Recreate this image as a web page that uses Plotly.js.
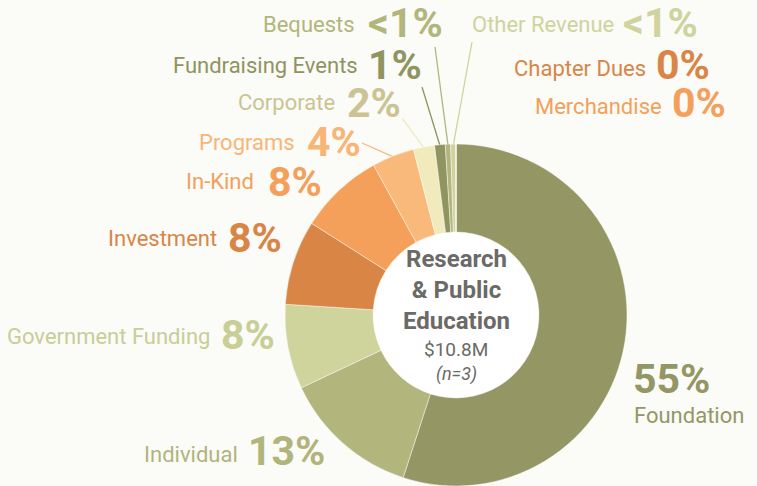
<!DOCTYPE html>
<html>
<head>
<meta charset="utf-8">
<script src="https://cdn.plot.ly/plotly-3.0.1.min.js"></script>
<style>html,body{margin:0;padding:0;background:#fbfbf8;}#chart{width:757px;height:486px;}</style>
</head>
<body>
<div id="chart"></div>
<script>
// ---- data ----
const categories = ["Foundation","Individual","Government Funding","Investment","In-Kind","Programs","Corporate","Fundraising Events","Bequests","Other Revenue","Chapter Dues","Merchandise"];
const shares = [55, 13, 8, 8, 8, 4, 2, 1, 0.5, 0.5, 0, 0];
const pctLabels = ["55%","13%","8%","8%","8%","4%","2%","1%","<1%","<1%","0%","0%"];
const centerTitle = ["Research","& Public","Education"];
const centerTotal = "$10.8M";
const centerN = "(n=3)";

// ---- styles ----
const sliceColors = ["#949764","#b2b57c","#cfd39c","#d98546","#f4a05a","#f8b97b","#f1eabd","#8f9460","#b2b67c","#cfd49c","#d98546","#f4a05a"];
const textColors  = ["#949764","#b1b47b","#c9cd96","#d98546","#f4a05a","#f8b576","#cbc492","#8f9460","#b2b67c","#cfd49c","#d98546","#f4a05a"];

const W = 757, H = 486;
const cx = 456, cy = 315, R = 171, holeFrac = 0.485;
const px = x => x / W;
const py = y => 1 - y / H;

// label layout in pixels
const labelPos = {
  "Foundation":        {lx:632, ly:415, la:"left",  nx:631, ny:379},
  "Individual":        {lx:240, ly:454, la:"right", nx:246, ny:451},
  "Government Funding":{lx:212, ly:336, la:"right", nx:219, ny:335},
  "Investment":        {lx:219, ly:238, la:"right", nx:226, ny:238},
  "In-Kind":           {lx:256, ly:182, la:"right", nx:266, ny:182},
  "Programs":          {lx:297, ly:142, la:"right", nx:305, ny:142},
  "Corporate":         {lx:337, ly:103, la:"right", nx:345, ny:103},
  "Fundraising Events":{lx:360, ly:66,  la:"right", nx:366, ny:65},
  "Bequests":          {lx:357, ly:24,  la:"right", nx:366, ny:23},
  "Other Revenue":     {lx:470, ly:24,  la:"left",  nx:621, ny:23},
  "Chapter Dues":      {lx:648, ly:68,  la:"right", nx:654, ny:65},
  "Merchandise":       {lx:664, ly:106, la:"right", nx:670, ny:103}
};
const leaderStart = {
  "Programs": [362,143],
  "Corporate": [402,118],
  "Fundraising Events": [422,87],
  "Bequests": [435,47],
  "Other Revenue": [472,42]
};

const labelFont = "Roboto, sans-serif";

const annotations = [];
categories.forEach((c, i) => {
  const p = labelPos[c];
  annotations.push({xref:"paper", yref:"paper", x:px(p.lx), y:py(p.ly), xanchor:p.la, yanchor:"middle",
    text:c, showarrow:false, font:{family:labelFont, size:22, color:textColors[i]}});
  annotations.push({xref:"paper", yref:"paper", x:px(p.nx), y:py(p.ny), xanchor:"left", yanchor:"middle",
    text:"<b>"+pctLabels[i].replace("<","&lt;")+"</b>", showarrow:false, font:{family:labelFont, size:41, color:textColors[i]}});
});
// center text
annotations.push({xref:"paper", yref:"paper", x:px(cx), y:py(290), xanchor:"center", yanchor:"middle",
  text:"<b>"+centerTitle.join("<br>")+"</b>", showarrow:false, font:{family:labelFont, size:24, color:"#6b6a66"}});
annotations.push({xref:"paper", yref:"paper", x:px(cx), y:py(349), xanchor:"center", yanchor:"middle",
  text:centerTotal, showarrow:false, font:{family:labelFont, size:19, color:"#6b6a66"}});
annotations.push({xref:"paper", yref:"paper", x:px(cx), y:py(374), xanchor:"center", yanchor:"middle",
  text:"<i>"+centerN+"</i>", showarrow:false, font:{family:labelFont, size:18, color:"#6b6a66"}});

// leader lines computed from slice angles
const total = shares.reduce((a,b)=>a+b,0);
const shapes = [{type:"circle", xref:"paper", yref:"paper", layer:"below",
  x0:px(cx-R*holeFrac), x1:px(cx+R*holeFrac), y0:py(cy+R*holeFrac), y1:py(cy-R*holeFrac),
  fillcolor:"#ffffff", line:{width:0}}];
let cum = 0;
categories.forEach((c, i) => {
  const mid = (cum + shares[i]/2) / total * 2 * Math.PI;
  cum += shares[i];
  if (leaderStart[c]) {
    const ex = cx + (R-1) * Math.sin(mid), ey = cy - (R-1) * Math.cos(mid);
    shapes.push({type:"line", xref:"paper", yref:"paper", layer:"below",
      x0:px(leaderStart[c][0]), y0:py(leaderStart[c][1]), x1:px(ex), y1:py(ey),
      line:{color:sliceColors[i], width:1.3}});
  }
});

const trace = {
  type:"pie", labels:categories, values:shares, sort:false, direction:"clockwise", rotation:0,
  hole:holeFrac, textinfo:"none", hoverinfo:"label+percent",
  marker:{colors:sliceColors, line:{color:"rgba(255,255,255,0.55)", width:0.8}},
  domain:{x:[px(cx-R), px(cx+R)], y:[py(cy+R), py(cy-R)]},
  showlegend:false
};

Plotly.newPlot("chart", [trace], {
  width:W, height:H, margin:{l:0,r:0,t:0,b:0},
  paper_bgcolor:"#fbfbf8", plot_bgcolor:"#fbfbf8",
  showlegend:false, annotations:annotations, shapes:shapes
}, {displayModeBar:false, staticPlot:true});
</script>
</body>
</html>
